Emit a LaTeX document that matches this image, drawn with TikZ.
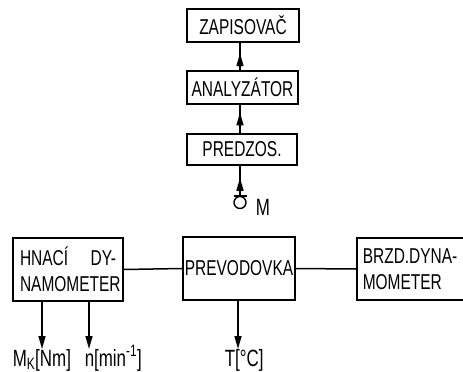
\documentclass[tikz,border=0pt]{standalone}
\usepackage{fontspec}
\setmainfont{Liberation Sans}[FakeStretch=0.72]
\usetikzlibrary{arrows.meta,calc}
\begin{document}
\begin{tikzpicture}[x=1pt,y=-1pt,
  font=\fontsize{21.5}{26}\selectfont,
  line width=1.5pt,
  box/.style={draw, inner sep=0pt, line width=1.6pt},
  tipp/.style={-{Triangle[length=13pt,width=7pt]}},
  lab/.style={anchor=base west, inner sep=0pt, font=\fontsize{23.5}{26}\selectfont}]
\useasboundingbox (0,0) rectangle (463,372);
\clip (0,0) rectangle (463,372);
% top chain
\node[box, minimum width=112pt, minimum height=33pt] (zap) at (243,25.5) {ZAPISOVAČ};
\node[box, minimum width=111pt, minimum height=33pt] (ana) at (242.5,87.5) {ANALYZÁTOR};
\node[box, minimum width=110pt, minimum height=31pt] (pre) at (242,149.5) {PREDZOS.};
% microphone
\node[draw, circle, minimum size=12pt, inner sep=0pt, line width=1.4pt] (mic) at (240,202.5) {};
\draw (mic.north) ++(-6.5,0) coordinate (barL) -- ++(13,0) coordinate (barR);
\node[lab] (mlab) at (255,215) {M};
\coordinate (a1) at ($(ana.north -| mic)!0.62!(zap.south -| mic)$);
\coordinate (a2) at ($(pre.north -| mic)!0.73!(ana.south -| mic)$);
\coordinate (a3) at ($(mic.north)!0.6!(pre.south -| mic)$);
\draw (ana.north -| mic) -- (zap.south -| mic);
\draw[tipp] (ana.north -| mic) -- (a1);
\draw (pre.north -| mic) -- (ana.south -| mic);
\draw[tipp] (pre.north -| mic) -- (a2);
\draw (mic.north) -- (pre.south -| mic);
\draw[tipp] (mic.north) -- (a3);
% bottom row
\node[box, minimum width=110pt, minimum height=63pt, text width=96pt, align=left] (hn) at (68,269.5) {HNACÍ\hfill DY-\\NAMOMETER};
\node[box, minimum width=112pt, minimum height=63pt] (pv) at (239,268.5) {PREVODOVKA};
\node[box, anchor=west, minimum width=114pt, minimum height=62pt, text width=102pt, align=left, inner xsep=6pt] (br) at (356,269) {BRZD.DYNA-\\MOMETER};
\draw (hn.east) -- (pv.west);
\draw (pv.east) -- (br.west);
% outputs
\coordinate (t1) at (42,349);
\coordinate (t2) at (89,349);
\coordinate (t3) at (238,349);
\draw[tipp] (hn.south -| t1) -- (t1);
\draw[tipp] (hn.south -| t2) -- (t2);
\draw[tipp] (pv.south -| t3) -- (t3);
\node[lab] (lm) at (12,366) {M\textsubscript{K}[Nm]};
\node[lab] (ln) at (84,366) {n[min\textsuperscript{-1}]};
\node[lab] (lt) at (224,366) {T[°C]};
\end{tikzpicture}
\end{document}
